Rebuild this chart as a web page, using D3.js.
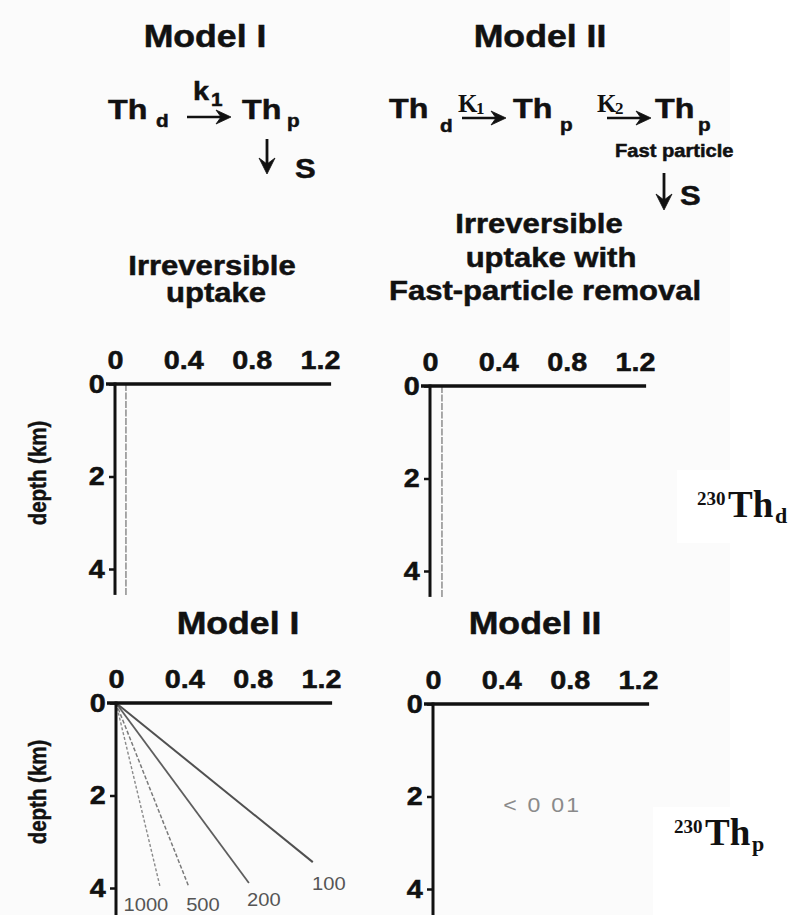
<!DOCTYPE html>
<html>
<head>
<meta charset="utf-8">
<script src="https://cdn.jsdelivr.net/npm/d3@7"></script>
<style>
  html, body { margin: 0; padding: 0; background: #ffffff; }
  svg { display: block; }
</style>
</head>
<body>
<script>
// ---------------- data ----------------
const xTicks = [0, 0.4, 0.8, 1.2];
const yTicks = [0, 2, 4];
// dissolved 230Th profiles (value, depth km)
const dissolvedModelI  = [[0.064, 0], [0.064, 4.56]];
const dissolvedModelII = [[0.07, 0], [0.07, 4.56]];
// particulate 230Th profiles, Model I, labelled by residence parameter
const particleNames = ["1000", "500", "200", "100"];
const particle1000 = [[0, 0], [0.257, 3.96]];
const particle500  = [[0, 0], [0.427, 3.98]];
const particle200  = [[0, 0], [0.778, 3.89]];
const particle100  = [[0, 0], [1.152, 3.44]];
const modelIINote = "< 0 01";

// ---------------- setup ----------------
const W = 792, H = 915;
const SX = 1.15; // horizontal stretch of the original scan lettering
const SANS = "'Liberation Sans', Arial, Helvetica, sans-serif";
const SERIF = "'Liberation Serif', 'Times New Roman', serif";

const svg = d3.select("body").append("svg").attr("width", W).attr("height", H);

// background: light off-white plate, white strip on the right
svg.append("rect").attr("x", 0).attr("y", 0).attr("width", W).attr("height", H).attr("fill", "#fbfbfb");
svg.append("rect").attr("x", 730).attr("y", 0).attr("width", W - 730).attr("height", H).attr("fill", "#ffffff");
svg.append("rect").attr("x", 677).attr("y", 470).attr("width", W - 677).attr("height", 73).attr("fill", "#ffffff");
svg.append("rect").attr("x", 653).attr("y", 807).attr("width", W - 653).attr("height", H - 807).attr("fill", "#ffffff");

function T(g, str, x, y, o = {}) {
  const sx = o.sx ?? SX;
  const bold = (o.weight || "bold") === "bold";
  const t = g.append("text")
    .attr("transform", `translate(${x},${y}) scale(${sx},1)`)
    .attr("text-anchor", o.anchor || "start")
    .style("font-family", o.family || SANS)
    .style("font-weight", o.weight || "bold")
    .style("font-size", (o.size || 20) + "px")
    .style("letter-spacing", o.ls || null)
    .attr("fill", o.fill || "#111")
    .attr("stroke", bold && !o.family ? (o.fill || "#111") : null)
    .attr("stroke-width", bold && !o.family ? 0.5 : null)
    .text(str);
  return t;
}

function hArrow(g, x1, x2, y) {
  g.append("line").attr("x1", x1).attr("x2", x2 - 6).attr("y1", y).attr("y2", y)
    .attr("stroke", "#111").attr("stroke-width", 2.5);
  g.append("path").attr("d", `M${x2},${y} L${x2 - 15},${y - 7} L${x2 - 10},${y} L${x2 - 15},${y + 7} Z`)
    .attr("fill", "#111").attr("stroke", "#111").attr("stroke-width", 0.8).attr("stroke-linejoin", "round");
}
function vArrow(g, x, y1, y2) {
  g.append("line").attr("x1", x).attr("x2", x).attr("y1", y1).attr("y2", y2 - 6)
    .attr("stroke", "#111").attr("stroke-width", 2.8);
  g.append("path").attr("d", `M${x},${y2} L${x - 8},${y2 - 16} L${x},${y2 - 10} L${x + 8},${y2 - 16} Z`)
    .attr("fill", "#111").attr("stroke", "#111").attr("stroke-width", 0.8).attr("stroke-linejoin", "round");
}

const txt = svg.append("g");

// ---------------- headers ----------------
T(txt, "Model I", 205, 47, { size: 31, anchor: "middle" });
T(txt, "Model II", 540, 47, { size: 31, anchor: "middle" });

// Model I scheme
T(txt, "Th", 108, 119, { size: 28 });
T(txt, "d", 156, 127, { size: 18 });
T(txt, "k", 193, 100, { size: 25 });
T(txt, "1", 211, 106, { size: 18 });
hArrow(txt, 187, 231, 117);
T(txt, "Th", 242, 119, { size: 28 });
T(txt, "p", 287, 127, { size: 18 });
vArrow(txt, 267, 139, 174);
T(txt, "S", 295, 178, { size: 27 });

// Model II scheme
T(txt, "Th", 389, 118, { size: 28 });
T(txt, "d", 440, 132, { size: 18 });
T(txt, "K", 458, 112, { size: 25, family: SERIF, sx: 1.0 });
T(txt, "1", 476, 114, { size: 17, family: SERIF, sx: 1.0 });
hArrow(txt, 462, 506, 118);
T(txt, "Th", 513, 118, { size: 28 });
T(txt, "p", 560, 131, { size: 18 });
T(txt, "K", 597, 112, { size: 25, family: SERIF, sx: 1.0 });
T(txt, "2", 615, 114, { size: 17, family: SERIF, sx: 1.0 });
hArrow(txt, 607, 651, 118);
T(txt, "Th", 655, 118, { size: 28 });
T(txt, "p", 698, 131, { size: 18 });
T(txt, "Fast particle", 615, 157, { size: 17.5 });
vArrow(txt, 664, 173, 210);
T(txt, "S", 680, 205, { size: 27 });

// model descriptions
T(txt, "Irreversible", 212, 275, { size: 27, anchor: "middle" });
T(txt, "uptake", 216, 302, { size: 27, anchor: "middle" });
T(txt, "Irreversible", 539, 233, { size: 27, anchor: "middle" });
T(txt, "uptake with", 551, 267, { size: 27, anchor: "middle" });
T(txt, "Fast-particle removal", 545, 300, { size: 27, anchor: "middle" });

T(txt, "Model I", 238, 634, { size: 31, anchor: "middle" });
T(txt, "Model II", 535, 634, { size: 31, anchor: "middle" });

// side labels (serif)
function isoLabel(x, y, sub) {
  const g = svg.append("g");
  g.append("text").attr("x", x).attr("y", y - 12).style("font-family", SERIF).style("font-weight", "bold")
    .style("font-size", "19px").attr("fill", "#111").text("230");
  g.append("text").attr("x", x + 31).attr("y", y).style("font-family", SERIF).style("font-weight", "bold")
    .style("font-size", "37px").attr("fill", "#111").text("Th");
  g.append("text").attr("x", x + 78).attr("y", y + 6).style("font-family", SERIF).style("font-weight", "bold")
    .style("font-size", "22px").attr("fill", "#111").text(sub);
}
isoLabel(697, 517, "d");
isoLabel(674, 845, "p");

// ---------------- panels ----------------
const panels = [
  { ox: 115, oy: 384, yEnd: 4.56, dissolved: dissolvedModelI },
  { ox: 430, oy: 386, yEnd: 4.56, dissolved: dissolvedModelII },
  { ox: 116, oy: 703, yEnd: 4.62, particle: true },
  { ox: 433, oy: 704, yEnd: 4.62, note: true }
];

panels.forEach((p, i) => {
  const g = svg.append("g");
  const x = d3.scaleLinear().domain([0, 1.2]).range([p.ox, p.ox + 205]);
  const y = d3.scaleLinear().domain([0, 4]).range([p.oy, p.oy + 185]);
  const line = d3.line().x(d => x(d[0])).y(d => y(d[1]));

  // dissolved profile
  if (p.dissolved) {
    g.append("path").datum(p.dissolved).attr("d", line)
      .attr("fill", "none").attr("stroke", "#9a9a9a").attr("stroke-width", 1.7)
      .attr("stroke-dasharray", "7,1.5");
  }
  // particulate profiles
  if (p.particle) {
    const series = [particle1000, particle500, particle200, particle100];
    const strokes = ["#8a8a8a", "#7a7a7a", "#5e5e5e", "#505050"];
    const widths = [1.4, 1.5, 1.8, 2.0];
    const dashes = ["3,2", "4,2", null, null];
    const lblOff = [[-14, 25], [14, 24], [15, 23], [16, 28]];
    series.forEach((s, k) => {
      g.append("path").datum(s).attr("d", line).attr("fill", "none")
        .attr("stroke", strokes[k]).attr("stroke-width", widths[k])
        .attr("stroke-dasharray", dashes[k]);
      const end = s[s.length - 1];
      const lx = x(end[0]) + lblOff[k][0], ly = y(end[1]) + lblOff[k][1];
      g.append("text").attr("transform", `translate(${lx},${ly}) scale(1.12,1)`)
        .attr("text-anchor", "middle")
        .style("font-family", SANS).style("font-size", "18px").attr("fill", "#555")
        .text(particleNames[k]);
    });
  }
  if (p.note) {
    T(g, modelIINote, x(0.64), y(2.33), { size: 21, weight: "normal", fill: "#8a8a8a", anchor: "middle", sx: 1.1, ls: "2px" });
  }

  // axes lines
  g.append("line").attr("x1", p.ox - 9).attr("x2", x(1.265)).attr("y1", p.oy).attr("y2", p.oy)
    .attr("stroke", "#111").attr("stroke-width", 3.5);
  g.append("line").attr("x1", p.ox).attr("x2", p.ox).attr("y1", p.oy - 1.5).attr("y2", y(p.yEnd))
    .attr("stroke", "#111").attr("stroke-width", 3);

  // top tick labels
  const ax = g.append("g").attr("transform", `translate(0,${p.oy})`)
    .call(d3.axisTop(x).tickValues(xTicks).tickSize(0).tickPadding(15)
      .tickFormat(d => d === 0 ? "0" : d3.format(".1f")(d)));
  ax.select(".domain").remove();
  ax.selectAll("text").style("font-family", SANS).style("font-weight", "bold")
    .style("font-size", "25px").attr("fill", "#111").attr("stroke", "#111").attr("stroke-width", 0.5)
    .attr("transform", `scale(${SX},1)`);

  // left ticks
  const ay = g.append("g").attr("transform", `translate(${p.ox},0)`)
    .call(d3.axisLeft(y).tickValues(yTicks).tickSize(6).tickPadding(3).tickFormat(d3.format("d")));
  ay.select(".domain").remove();
  ay.selectAll(".tick line").attr("stroke", "#111").attr("stroke-width", 2.5);
  ay.selectAll("text").style("font-family", SANS).style("font-weight", "bold")
    .style("font-size", "25px").attr("fill", "#111").attr("stroke", "#111").attr("stroke-width", 0.5)
    .attr("transform", `scale(${SX},1)`);

  // y-axis title on left panels
  if (i === 0 || i === 2) {
    svg.append("text")
      .attr("transform", `translate(46,${p.oy + 89}) scale(${SX},1) rotate(-90)`)
      .attr("text-anchor", "middle")
      .style("font-family", SANS).style("font-weight", "bold").style("font-size", "20.5px")
      .attr("fill", "#111").attr("stroke", "#111").attr("stroke-width", 0.4).text("depth (km)");
  }
});
</script>
</body>
</html>
